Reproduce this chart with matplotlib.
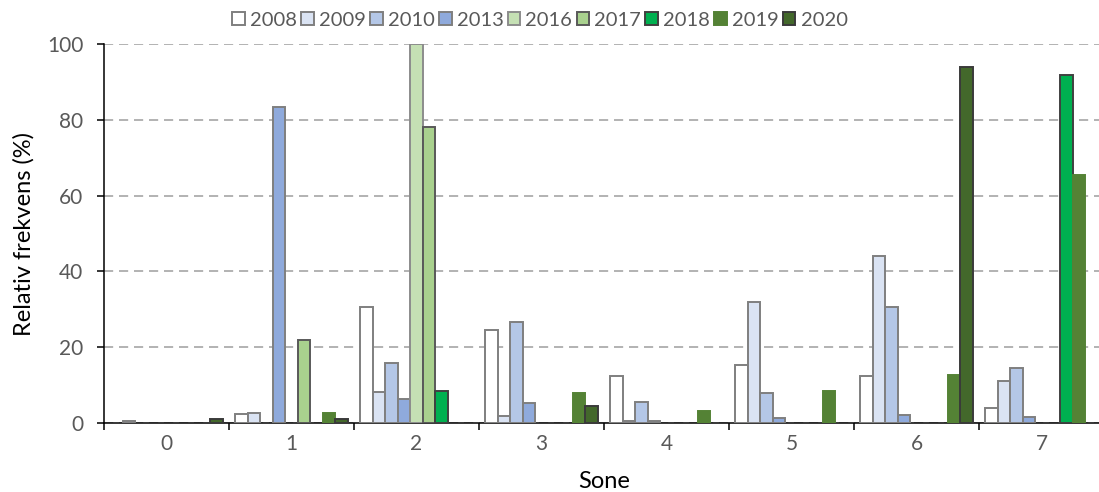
import numpy as np
import matplotlib
matplotlib.use("Agg")
import matplotlib.pyplot as plt
from matplotlib.patches import Patch

plt.rcParams['font.family'] = ['Lato', 'DejaVu Sans']

# Zones on the x axis
zones = ["0", "1", "2", "3", "4", "5", "6", "7"]
years = ["2008", "2009", "2010", "2013", "2016", "2017", "2018", "2019", "2020"]

nan = np.nan
# Relative frequency (%) per zone, one list per year
v2008 = [nan, 2.3, 30.5, 24.5, 12.4, 15.4, 12.4, 4.0]
v2009 = [0.5, 2.7, 8.2, 1.8, 0.5, 31.8, 44.1, 11.1]
v2010 = [nan, nan, 15.7, 26.6, 5.5, 8.0, 30.7, 14.6]
v2013 = [nan, 83.5, 6.4, 5.3, 0.5, 1.3, 2.2, 1.6]
v2016 = [nan, nan, 100.0, nan, nan, nan, nan, nan]
v2017 = [nan, 22.0, 78.2, nan, nan, nan, nan, nan]
v2018 = [nan, nan, 8.5, nan, nan, nan, nan, 91.8]
v2019 = [nan, 2.6, nan, 7.9, 3.1, 8.5, 12.7, 65.5]
v2020 = [1.0, 1.1, nan, 4.6, nan, nan, 94.0, nan]
series = [v2008, v2009, v2010, v2013, v2016, v2017, v2018, v2019, v2020]

fills = ["#ffffff", "#dae3f3", "#b4c7e7", "#8faadc", "#c5e0b4",
         "#a9d18e", "#00b050", "#548235", "#43682b"]
edges = ["#7f7f7f", "#7f7f7f", "#7f7f7f", "#7f7f7f", "#8c8c8c",
         "#595959", "#404040", "#548235", "#3a3a3a"]

W, H = 1099, 492
fig = plt.figure(figsize=(W / 100, H / 100), dpi=100)
ax = fig.add_axes([104 / W, (H - 423) / H, 1000 / W, (423 - 44) / H])

x = np.arange(len(zones))
bw = 0.1
for i, (vals, fc, ec) in enumerate(zip(series, fills, edges)):
    ax.bar(x - 0.4 + bw * i, np.array(vals, dtype=float), width=bw,
           color=fc, edgecolor=ec, linewidth=1.4, zorder=3)

ax.set_xlim(-0.5, len(zones) - 0.5)
ax.set_ylim(0, 100)
ax.set_yticks(np.arange(0, 101, 20))
ax.yaxis.grid(True, color="#a6a6a6", linestyle=(0, (5.5, 3.5)), linewidth=1.2, zorder=0)
ax.set_axisbelow(True)

# x ticks at zone boundaries, labels in the middle of each zone
ax.set_xticks(np.arange(-0.5, len(zones), 1.0))
ax.set_xticklabels([])
ax.set_xticks(x, minor=True)
ax.set_xticklabels(zones, minor=True)
ax.tick_params(axis="x", which="major", direction="out", length=5, width=1.1, color="black")
ax.tick_params(axis="x", which="minor", length=0, pad=8, labelsize=15, labelcolor="#595959")
ax.tick_params(axis="y", direction="out", length=5, width=1.1, color="black",
               pad=10, labelsize=15, labelcolor="#595959")

for s in ["top", "right"]:
    ax.spines[s].set_visible(False)
for s in ["left", "bottom"]:
    ax.spines[s].set_color("black")
    ax.spines[s].set_linewidth(1.1)

ax.set_xlabel("Sone", fontsize=17, color="black", labelpad=12)
ax.set_ylabel("Relativ frekvens (%)", fontsize=17, color="black", labelpad=9)

handles = [Patch(facecolor=fc, edgecolor=ec, linewidth=1.4) for fc, ec in zip(fills, edges)]
leg = fig.legend(handles, years, loc="center", bbox_to_anchor=(540 / W, 1 - 20 / H),
                 ncol=len(years), frameon=False, fontsize=14.5,
                 handlelength=0.62, handleheight=0.62, handletextpad=0.25,
                 columnspacing=0.22, borderpad=0.1)
for t in leg.get_texts():
    t.set_color("#595959")

fig.savefig("out.png", dpi=100)
